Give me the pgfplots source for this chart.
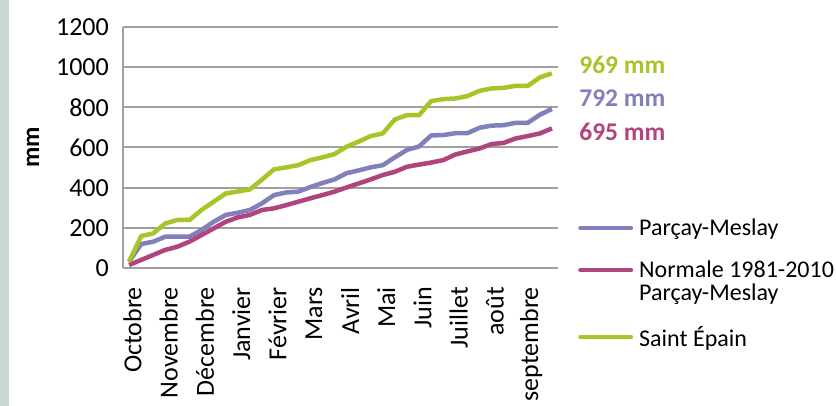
\documentclass[border=0pt]{standalone}
\usepackage{fontspec}
\setmainfont{Carlito}
\usepackage{pgfplots}
\usepackage{pgfplotstable}
\pgfplotsset{compat=1.18}

\definecolor{lila}{RGB}{128,128,186}
\definecolor{rose}{RGB}{176,69,125}
\definecolor{vert}{RGB}{165,198,40}
\definecolor{grille}{RGB}{160,160,160}
\definecolor{bande}{RGB}{201,219,208}

\pgfplotsset{
  legende/.style={legend image code/.code={\draw[##1, line cap=round] (2.25pt,0pt) -- (52.75pt,0pt);}},
  legende haute/.style={legend image code/.code={\draw[##1, line cap=round] (2.25pt,11.5pt) -- (52.75pt,11.5pt);}},
}

% cumul des precipitations par decade (mm)
\pgfplotstableread{
i parcay normale epain
0 31 15 31
1 119 40 159
2 131 65 172
3 156 90 222
4 156 106 239
5 156 131 239
6 189 164 289
7 230 197 330
8 264 230 371
9 275 252 381
10 289 264 391
11 322 289 440
12 363 297 491
13 376 313 501
14 380 330 512
15 403 347 537
16 423 363 551
17 441 380 567
18 472 401 604
19 486 421 629
20 501 441 657
21 512 463 670
22 551 479 740
23 588 504 761
24 605 515 761
25 660 525 831
26 662 537 841
27 671 565 844
28 671 580 856
29 698 595 882
30 709 617 894
31 711 623 897
32 723 645 907
33 723 657 907
34 763 670 949
35 792 695 969
}\cumul

\begin{document}
\begin{tikzpicture}
\useasboundingbox (0,0) rectangle (836pt,406pt);
\fill[bande] (0,0) rectangle (8.5pt,406pt);
\begin{axis}[
  at={(123pt,138pt)}, anchor=south west,
  scale only axis, width=435pt, height=241pt,
  xmin=-0.5, xmax=35.5, ymin=0, ymax=1200,
  ytick={0,200,...,1200},
  xtick={0,3,...,33},
  xticklabels={Octobre,Novembre,Décembre,Janvier,Février,Mars,Avril,Mai,Juin,Juillet,août,septembre},
  axis x line*=bottom, axis y line*=left,
  axis line style={draw=grille, line width=2pt, -},
  ymajorgrids, major grid style={draw=grille, line width=2pt},
  major tick length=0pt,
  /pgf/number format/assume math mode=true,
  /pgf/number format/1000 sep={},
  tick label style={font=\fontsize{26}{26}\selectfont, inner sep=0pt},
  xticklabel style={rotate=90, anchor=east, yshift=-3.5pt},
  yticklabel style={anchor=east},
  xticklabel shift=19pt,
  yticklabel shift=14pt,
  ylabel={mm},
  ylabel style={font=\fontsize{25}{25}\selectfont\bfseries,
    at={(axis description cs:-0.2069,0.5)}, anchor=center},
  clip=false,
  legend cell align=left,
  legend style={at={(1.046,-0.064)}, anchor=west, draw=none, fill=none,
    inner sep=0pt, row sep=24pt, column sep=6pt,
    nodes={inner sep=0pt, align=left, font=\fontsize{24}{23}\selectfont}},
  legende,
]
\addplot[lila, line width=4.5pt, line join=round] table[x=i, y=parcay] {\cumul};
\addlegendentry{Parçay-Meslay}
\addplot[rose, line width=4.5pt, line join=round, legende haute] table[x=i, y=normale] {\cumul};
\addlegendentry{Normale 1981-2010\\Parçay-Meslay}
\addplot[vert, line width=4.5pt, line join=round] table[x=i, y=epain] {\cumul};
\addlegendentry{Saint Épain}

\node[anchor=west, inner sep=0pt, text=vert, font=\fontsize{25.5}{25}\selectfont\bfseries] at (axis cs:37.25,1010) {969 mm};
\node[anchor=west, inner sep=0pt, text=lila, font=\fontsize{25.5}{25}\selectfont\bfseries] at (axis cs:37.25,846) {792 mm};
\node[anchor=west, inner sep=0pt, text=rose, font=\fontsize{25.5}{25}\selectfont\bfseries] at (axis cs:37.25,677) {695 mm};
\end{axis}
\end{tikzpicture}
\end{document}
